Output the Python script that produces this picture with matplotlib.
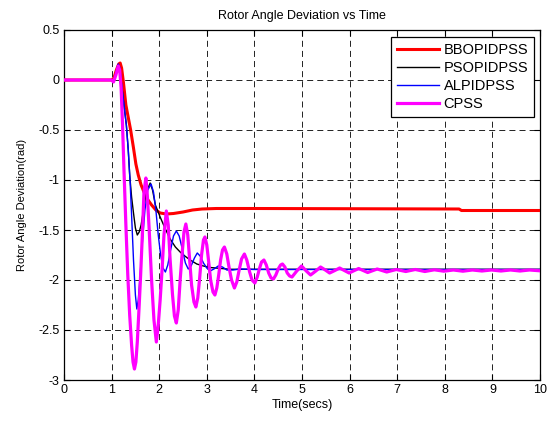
import matplotlib
matplotlib.use("Agg")
import matplotlib.pyplot as plt

plt.rcParams['font.family'] = ['Liberation Sans', 'DejaVu Sans']

# ---- data ----
bbo_t = [0, 1.0, 1.05, 1.10, 1.15, 1.18, 1.21, 1.25, 1.30, 1.36, 1.40, 1.46, 1.51, 1.56,
         1.62, 1.68, 1.75, 1.84, 1.93, 2.02, 2.15, 2.30, 2.50, 2.70, 2.90, 3.2, 4.0, 8.30, 8.35, 10.0]
bbo_v = [0, 0, 0.02, 0.10, 0.16, 0.17, 0.12, -0.03, -0.25, -0.40, -0.50, -0.68, -0.84, -0.95,
         -1.05, -1.12, -1.19, -1.25, -1.30, -1.33, -1.34, -1.335, -1.32, -1.30, -1.29, -1.285,
         -1.285, -1.29, -1.305, -1.305]

pso_t = [0, 1.0, 1.04, 1.09, 1.13, 1.17, 1.20, 1.26, 1.31, 1.35, 1.38, 1.42, 1.46, 1.50, 1.54,
         1.58, 1.62, 1.67, 1.73, 1.81, 1.86, 1.92, 2.02, 2.12, 2.23, 2.34, 2.44, 2.51, 2.65,
         2.79, 2.93, 3.07, 3.5, 10.0]
pso_v = [0, 0, -0.01, 0.06, 0.15, 0.12, 0.0, -0.25, -0.45, -0.70, -0.95, -1.17, -1.33, -1.48,
         -1.55, -1.52, -1.45, -1.30, -1.12, -1.03, -1.10, -1.25, -1.37, -1.48, -1.59, -1.67,
         -1.72, -1.75, -1.80, -1.84, -1.86, -1.875, -1.893, -1.893]

al_t = [0, 1.0, 1.04, 1.09, 1.14, 1.17, 1.20, 1.26, 1.31, 1.35, 1.39, 1.42, 1.46, 1.50, 1.53,
        1.56, 1.60, 1.65, 1.70, 1.76, 1.83, 1.88, 1.93, 1.98, 2.03, 2.08, 2.13, 2.18, 2.24,
        2.30, 2.36, 2.42, 2.48, 2.55, 2.61, 2.67, 2.74, 2.80, 2.86, 2.93, 3.00, 3.07, 3.15,
        3.24, 3.33, 3.42, 3.55, 3.7, 4.0, 10.0]
al_v = [0, 0, -0.01, 0.07, 0.16, 0.13, 0.0, -0.25, -0.45, -0.70, -1.03, -1.35, -1.80, -2.15,
        -2.29, -2.20, -1.95, -1.60, -1.30, -1.10, -1.04, -1.12, -1.30, -1.55, -1.75, -1.88,
        -1.92, -1.85, -1.70, -1.56, -1.51, -1.56, -1.68, -1.83, -1.89, -1.86, -1.78, -1.73,
        -1.76, -1.83, -1.88, -1.91, -1.89, -1.86, -1.87, -1.90, -1.90, -1.89, -1.895, -1.895]

cpss_t = [0.00, 1.00, 1.04, 1.09, 1.14, 1.17, 1.20, 1.23, 1.26, 1.30, 1.34, 1.38, 1.42, 1.45,
          1.48, 1.51, 1.54, 1.58, 1.61, 1.65, 1.68, 1.72, 1.75, 1.79, 1.84, 1.89, 1.94, 1.98,
          2.02, 2.06, 2.10, 2.15, 2.19, 2.23, 2.28, 2.32, 2.36, 2.40, 2.44, 2.48, 2.52, 2.56,
          2.60, 2.64, 2.68, 2.73, 2.77, 2.81, 2.85, 2.89, 2.93, 2.96, 3.00, 3.04, 3.08, 3.13,
          3.17, 3.21, 3.25, 3.29, 3.33, 3.37, 3.42, 3.47, 3.52, 3.58, 3.63, 3.68, 3.73, 3.79,
          3.84, 3.90, 3.95, 4.01, 4.06, 4.11, 4.15, 4.20, 4.25, 4.30, 4.35, 4.40, 4.45, 4.50,
          4.55, 4.59, 4.64, 4.69, 4.74, 4.79, 4.89, 4.99, 5.09, 5.18, 5.29, 5.39, 5.49, 5.58,
          5.69, 5.79, 5.89, 5.99, 6.19, 6.38, 6.58, 6.78, 6.98, 7.18, 7.38, 7.58, 7.78, 7.98,
          8.18, 8.38, 8.58, 8.78, 8.98, 9.18, 9.38, 9.58, 9.78, 10.0]
cpss_v = [0.00, 0.00, -0.02, 0.05, 0.14, 0.10, -0.08, -0.45, -0.90, -1.45, -1.95, -2.35, -2.65,
          -2.82, -2.89, -2.82, -2.62, -2.25, -1.95, -1.50, -1.12, -0.98, -1.15, -1.50, -2.00,
          -2.40, -2.62, -2.45, -2.20, -1.90, -1.55, -1.31, -1.45, -1.80, -2.15, -2.36, -2.43,
          -2.30, -2.00, -1.75, -1.52, -1.44, -1.55, -1.80, -2.05, -2.22, -2.27, -2.18, -1.98,
          -1.75, -1.60, -1.57, -1.65, -1.82, -2.00, -2.12, -2.15, -2.08, -1.95, -1.80, -1.70,
          -1.67, -1.74, -1.88, -2.00, -2.08, -2.02, -1.90, -1.79, -1.74, -1.80, -1.92, -2.00,
          -2.03, -1.97, -1.88, -1.82, -1.80, -1.85, -1.93, -1.98, -1.99, -1.95, -1.89, -1.85,
          -1.84, -1.87, -1.93, -1.96, -1.97, -1.91, -1.86, -1.91, -1.95, -1.91, -1.87, -1.90,
          -1.93, -1.905, -1.88, -1.905, -1.93, -1.885, -1.925, -1.89, -1.92, -1.895, -1.915,
          -1.895, -1.915, -1.898, -1.912, -1.90, -1.912, -1.90, -1.91, -1.90, -1.91, -1.90,
          -1.91, -1.90, -1.908]

labels = ['BBOPIDPSS', 'PSOPIDPSS', 'ALPIDPSS', 'CPSS']
xticks = [0, 1, 2, 3, 4, 5, 6, 7, 8, 9, 10]
yticks = [0.5, 0, -0.5, -1, -1.5, -2, -2.5, -3]
ytick_labels = ['0.5', '0', '-0.5', '-1', '-1.5', '-2', '-2.5', '-3']

fig = plt.figure(figsize=(5.54, 4.23), dpi=100)
ax = fig.add_axes([64 / 554, 1 - 380 / 423, 476 / 554, 350 / 423])

ax.plot(bbo_t, bbo_v, color='#ff0000', lw=2.2, label=labels[0], zorder=3)
ax.plot(pso_t, pso_v, color='#000000', lw=1.0, label=labels[1], zorder=4)
ax.plot(al_t, al_v, color='#0000ff', lw=1.0, label=labels[2], zorder=5)
ax.plot(cpss_t, cpss_v, color='#ff00ff', lw=2.3, label=labels[3], zorder=6)

ax.set_xlim(0, 10)
ax.set_ylim(-3, 0.5)
ax.set_xticks(xticks)
ax.set_yticks(yticks)
ax.set_yticklabels(ytick_labels)
ax.tick_params(direction='in', top=True, right=True, labelsize=9, length=4, width=0.8, pad=3)
ax.grid(True, color='#222222', linestyle=(0, (6.2, 4.2)), linewidth=0.7)
for s in ax.spines.values():
    s.set_linewidth(0.9)

ax.set_title('Rotor Angle Deviation vs Time', fontsize=9, pad=8)
ax.set_xlabel('Time(secs)', fontsize=9, labelpad=2)
ax.set_ylabel('Rotor Angle Deviation(rad)', fontsize=8, labelpad=8)

leg = ax.legend(loc='upper right', bbox_to_anchor=(0.9874, 0.979), fontsize=10.5, frameon=True,
                fancybox=False, framealpha=1, edgecolor='black', borderaxespad=0.0,
                handlelength=2.9, labelspacing=0.28, borderpad=0.4, handletextpad=0.3)
leg.get_frame().set_linewidth(0.9)

fig.savefig('out.png', dpi=100)
